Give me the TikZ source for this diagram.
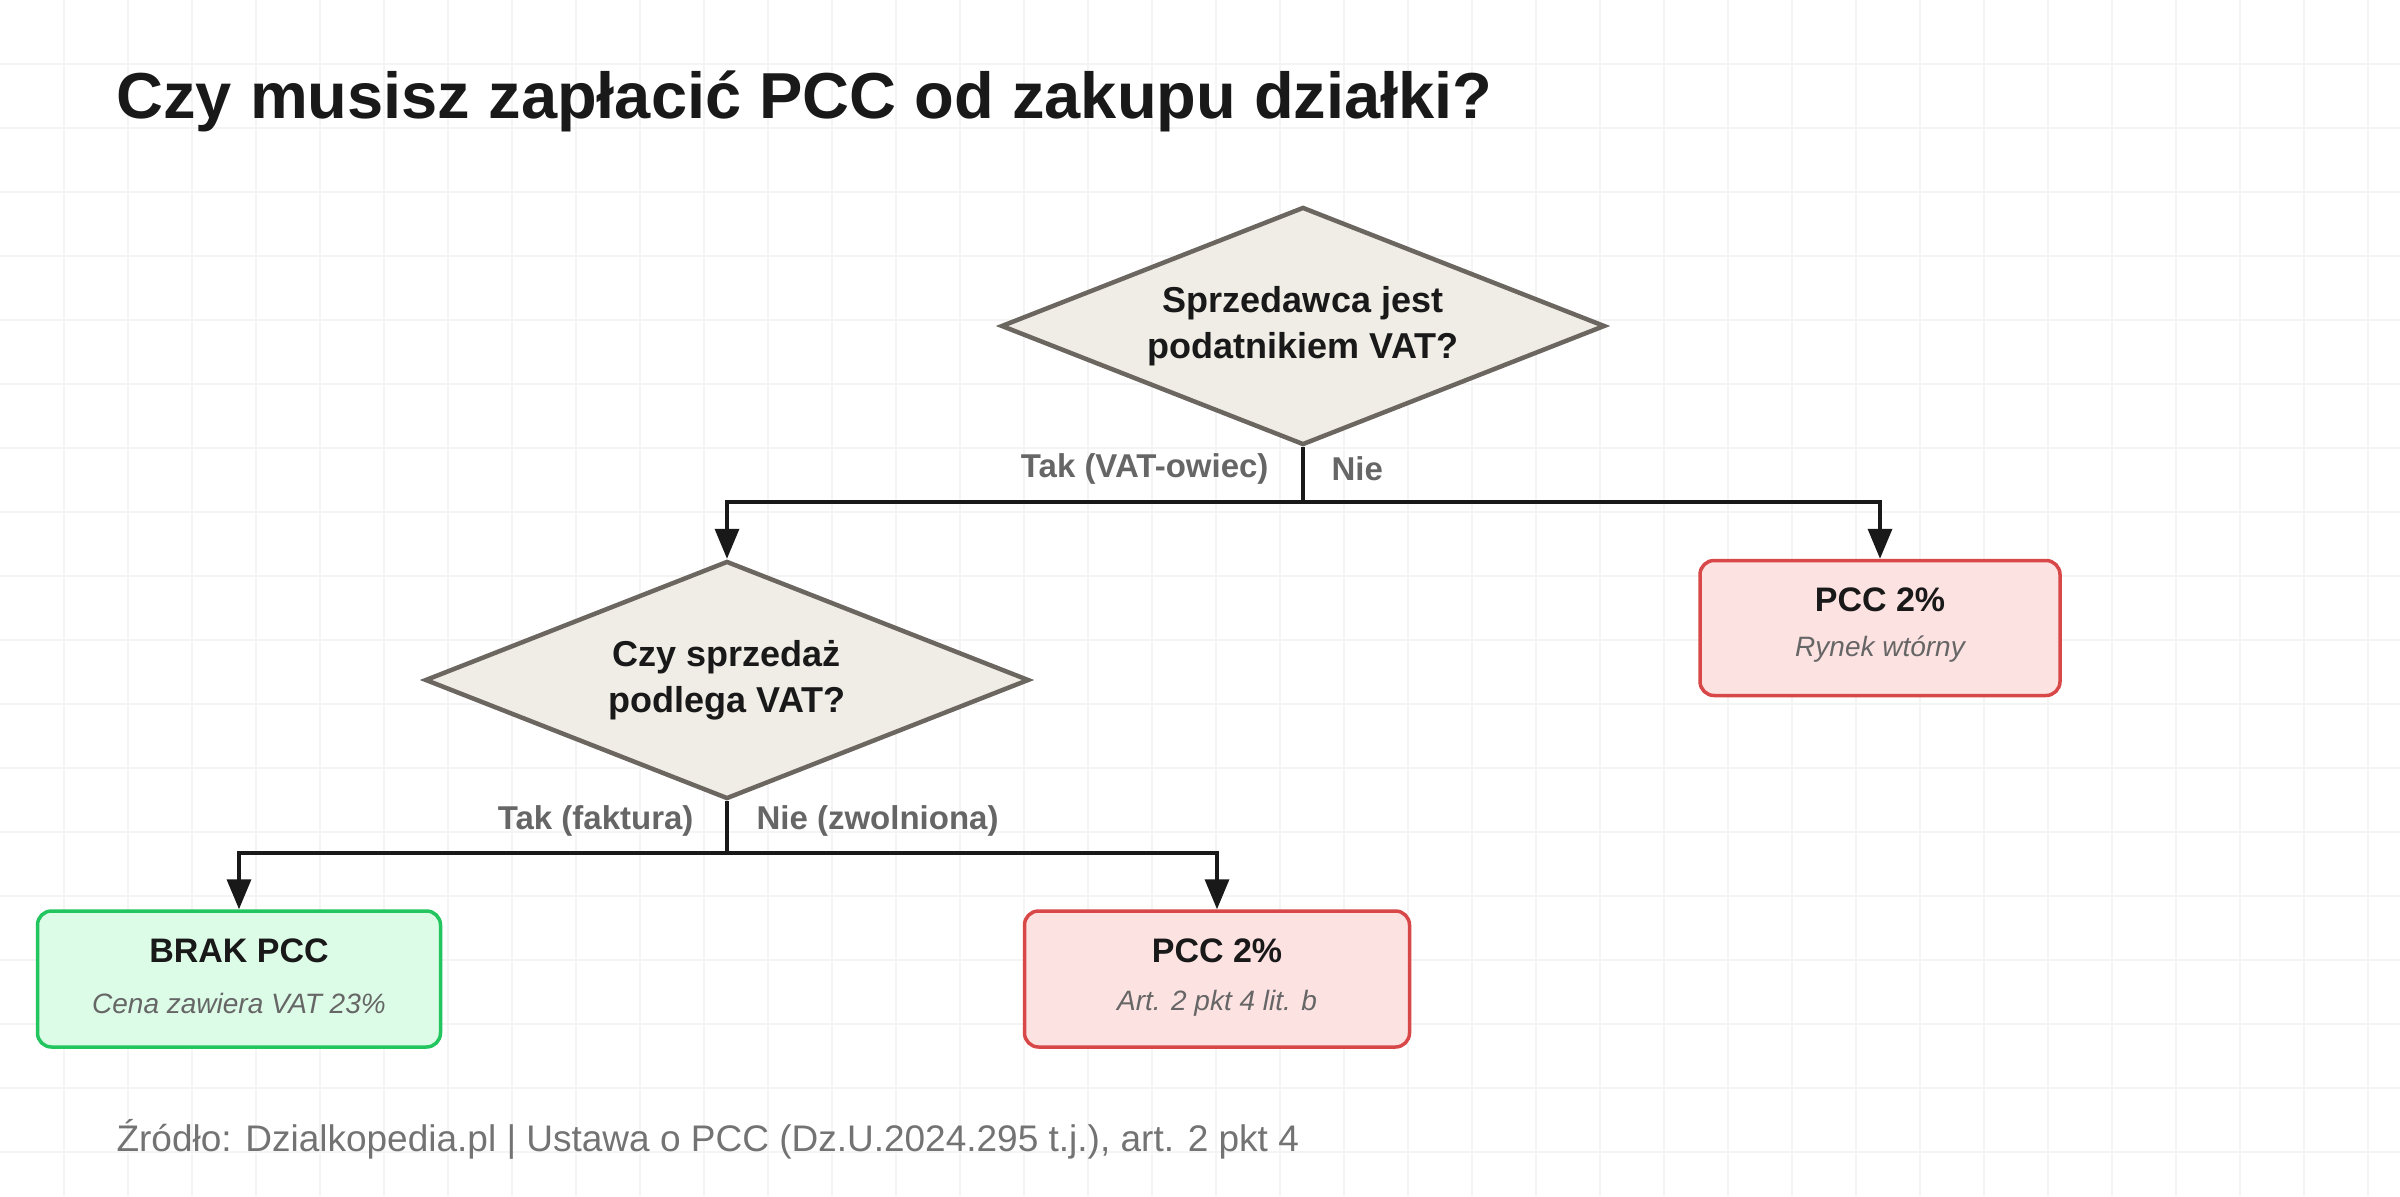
\documentclass[tikz,border=0pt]{standalone}
\usepackage{fontspec}
\setmainfont{Liberation Sans}
\usetikzlibrary{shapes.geometric,arrows.meta}
\definecolor{dfill}{HTML}{F0EDE6}\definecolor{dline}{HTML}{6B6660}
\definecolor{rfill}{HTML}{FDE2E2}\definecolor{rline}{HTML}{D94848}
\definecolor{gfill}{HTML}{DCFCE7}\definecolor{gline}{HTML}{22C55E}
\definecolor{lbl}{HTML}{666666}\definecolor{grid}{HTML}{F4F4F4}
\begin{document}
\begin{tikzpicture}[x=1pt,y=-1pt,
 dec/.style={diamond,draw=dline,fill=dfill,line width=4.5pt,aspect=2.54,minimum width=604pt,minimum height=238pt,inner sep=0pt,align=center,font=\fontsize{36}{46}\selectfont\bfseries,text=black!90},
 box/.style={rectangle,rounded corners=14pt,line width=3.5pt,align=center,inner sep=0pt},
 rbox/.style={box,draw=rline,fill=rfill},
 gbox/.style={box,draw=gline,fill=gfill},
 ttl/.style={font=\fontsize{34}{40}\selectfont\bfseries,text=black!90},
 sub/.style={font=\fontsize{28}{32}\selectfont\itshape,text=lbl},
 lab/.style={font=\fontsize{33}{38}\selectfont\bfseries,text=lbl},
 conn/.style={line width=3.5pt,draw=black!90},
 arr/.style={conn,-{Triangle[length=30pt,width=24pt]}}]
\useasboundingbox (0,0) rectangle (2400,1196);
\fill[white] (0,0) rectangle (2400,1196);
\foreach \i in {64,128,...,2400} \draw[grid,line width=1.5pt] (\i,0) -- (\i,1196);
\foreach \i in {64,128,...,1196} \draw[grid,line width=1.5pt] (0,\i) -- (2400,\i);
\node[anchor=base west,font=\fontsize{65}{72}\selectfont\bfseries,text=black!90] (title) at (113,119) {Czy musisz zapłacić PCC od zakupu działki?};
\node[dec] (d1) at (1303,326) {Sprzedawca jest\\podatnikiem VAT?};
\node[dec] (d2) at (727,680) {Czy sprzedaż\\podlega VAT?};
\node[rbox,minimum width=360pt,minimum height=135pt] (p1) at (1880,628) {};
\node[ttl] (p1t) at (1880,600) {PCC 2\%};
\node[sub] (p1s) at (1880,649) {Rynek wtórny};
\node[gbox,minimum width=403pt,minimum height=136pt] (b) at (239,979) {};
\node[ttl] (bt) at (239,951) {BRAK PCC};
\node[sub] (bs) at (239,1003) {Cena zawiera VAT 23\%};
\node[rbox,minimum width=385pt,minimum height=136pt] (p2) at (1217,979) {};
\node[ttl] (p2t) at (1217,951) {PCC 2\%};
\node[sub] (p2s) at (1217,1003) {Art. 2 pkt 4 lit. b};
\coordinate (j1) at (1303,502);
\coordinate (j2) at (727,853);
\draw[conn] (d1.south) -- (j1);
\draw[arr] (j1) -| (d2.north);
\draw[arr] (j1) -| (p1.north);
\draw[conn] (d2.south) -- (j2);
\draw[arr] (j2) -| (b.north);
\draw[arr] (j2) -| (p2.north);
\node[lab,anchor=east] (l1) at (1272,469) {Tak (VAT-owiec)};
\node[lab,anchor=west] (l2) at (1328,469) {Nie};
\node[lab,anchor=east] (l3) at (697,821) {Tak (faktura)};
\node[lab,anchor=west] (l4) at (753,821) {Nie (zwolniona)};
\node[anchor=base west,font=\fontsize{37}{44}\selectfont,text=black!55] (src) at (113,1151) {Źródło: Dzialkopedia.pl | Ustawa o PCC (Dz.U.2024.295 t.j.), art. 2 pkt 4};
\end{tikzpicture}
\end{document}
